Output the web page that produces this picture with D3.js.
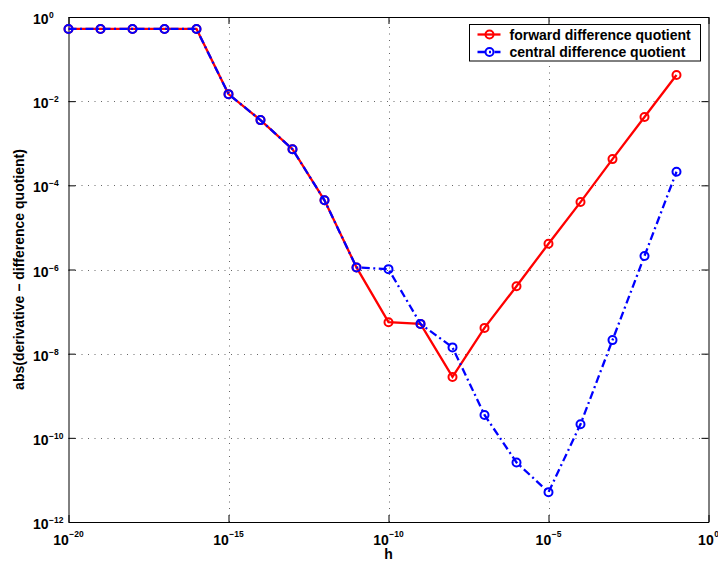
<!DOCTYPE html>
<html>
<head>
<meta charset="utf-8">
<script src="https://cdn.jsdelivr.net/npm/d3@7"></script>
<style>
  body { margin: 0; background: #fff; }
  svg { font-family: "Liberation Sans", Arial, Helvetica, sans-serif; font-weight: bold; }
</style>
</head>
<body>
<div id="chart"></div>
<script>
// step sizes h
const hValues = [1e-20, 1e-19, 1e-18, 1e-17, 1e-16, 1e-15, 1e-14, 1e-13, 1e-12, 1e-11,
                 1e-10, 1e-9, 1e-8, 1e-7, 1e-6, 1e-5, 1e-4, 1e-3, 1e-2, 1e-1];

// abs(derivative - forward difference quotient)
const forwardErr = [0.52, 0.52, 0.52, 0.52, 0.52, 0.0147, 3.55e-3, 7.2e-4, 4.4e-5, 1.12e-6,
                    5.6e-8, 5.1e-8, 2.8e-9, 4.1e-8, 4.0e-7, 4.1e-6, 4.0e-5, 4.2e-4, 4.2e-3, 4.2e-2];

// abs(derivative - central difference quotient)
const centralErr = [0.52, 0.52, 0.52, 0.52, 0.52, 0.0147, 3.55e-3, 7.2e-4, 4.4e-5, 1.12e-6,
                    1.02e-6, 5.1e-8, 1.41e-8, 3.5e-10, 2.6e-11, 5.1e-12, 2.1e-10, 2.1e-8, 2.1e-6, 2.1e-4];

const xTicks = [1e-20, 1e-15, 1e-10, 1e-5, 1e0];
const xTickExp = ["\u221220", "\u221215", "\u221210", "\u22125", "0"];
const yTicks = [1e0, 1e-2, 1e-4, 1e-6, 1e-8, 1e-10, 1e-12];
const yTickExp = ["0", "\u22122", "\u22124", "\u22126", "\u22128", "\u221210", "\u221212"];

const seriesNames = ["forward difference quotient", "central difference quotient"];

const W = 718, H = 562;
const m = { left: 68.5, right: 708.5, top: 17, bottom: 522 };

const svg = d3.select("#chart").append("svg")
    .attr("width", W)
    .attr("height", H);

svg.append("rect").attr("width", W).attr("height", H).attr("fill", "#fff");

const x = d3.scaleLog().domain([1e-20, 1]).range([m.left, m.right]);
const y = d3.scaleLog().domain([1e-12, 1]).range([m.bottom, m.top]);

// dotted grid
const grid = svg.append("g").attr("class", "grid")
    .attr("stroke", "#666").attr("stroke-width", 1).attr("stroke-dasharray", "1,5.5");
grid.selectAll("line.gx")
    .data(xTicks.slice(1, -1))
    .enter().append("line")
    .attr("x1", d => Math.round(x(d)) + 0.5).attr("x2", d => Math.round(x(d)) + 0.5)
    .attr("y1", m.bottom).attr("y2", m.top);
grid.selectAll("line.gy")
    .data(yTicks.slice(1, -1))
    .enter().append("line")
    .attr("y1", d => Math.round(y(d)) + 0.5).attr("y2", d => Math.round(y(d)) + 0.5)
    .attr("x1", m.left).attr("x2", m.right);

// axes with inward ticks, labels drawn separately
svg.append("g")
    .attr("transform", `translate(0,${m.bottom})`)
    .call(d3.axisBottom(x).tickValues(xTicks).tickSizeInner(-7).tickSizeOuter(0).tickFormat(""));
svg.append("g")
    .attr("transform", `translate(${m.left},0)`)
    .call(d3.axisLeft(y).tickValues(yTicks).tickSizeInner(-7).tickSizeOuter(0).tickFormat(""));
svg.append("g")
    .attr("transform", `translate(0,${m.top})`)
    .call(d3.axisTop(x).tickValues(xTicks).tickSizeInner(-7).tickSizeOuter(0).tickFormat(""));
svg.append("g")
    .attr("transform", `translate(${m.right},0)`)
    .call(d3.axisRight(y).tickValues(yTicks).tickSizeInner(-7).tickSizeOuter(0).tickFormat(""));

svg.selectAll(".domain").attr("stroke", "#000");
svg.selectAll(".tick line").attr("stroke", "#000");

// x tick labels: whole "10^e" centred on the tick
const xLab = svg.append("g").selectAll("text")
    .data(xTicks)
    .enter().append("text")
    .attr("x", d => x(d)).attr("y", 545)
    .attr("text-anchor", "middle")
    .attr("font-size", "14px");
xLab.append("tspan").text("10");
xLab.append("tspan")
    .attr("dy", -8.5).attr("dx", 0.5)
    .attr("font-size", "8.5px")
    .text((d, i) => xTickExp[i]);

// y tick labels: left aligned "10", exponent follows
const yLab = svg.append("g").selectAll("g")
    .data(yTicks)
    .enter().append("g")
    .attr("transform", d => `translate(48.5,${y(d) + 7})`);
yLab.append("text")
    .attr("text-anchor", "end")
    .attr("font-size", "14px")
    .text("10");
yLab.append("text")
    .attr("x", 0.5).attr("y", -6)
    .attr("font-size", "8.5px")
    .text((d, i) => yTickExp[i]);

// axis titles
svg.append("text")
    .attr("x", x(1e-10)).attr("y", 558.5)
    .attr("text-anchor", "middle")
    .attr("font-size", "14px")
    .text("h");

svg.append("text")
    .attr("transform", `translate(23.5,${(m.top + m.bottom) / 2}) rotate(-90)`)
    .attr("text-anchor", "middle")
    .attr("font-size", "14px")
    .text("abs(derivative \u2212 difference quotient)");

// series
const series = [
    { name: seriesNames[0], values: forwardErr, color: "#ff0000", dash: null },
    { name: seriesNames[1], values: centralErr, color: "#0000ff", dash: "8,3.5,2,3.5" }
];

const line = d3.line()
    .x(d => x(d[0]))
    .y(d => y(d[1]));

series.forEach(s => {
    const pts = hValues.map((h, i) => [h, s.values[i]]);
    const g = svg.append("g");
    g.append("path")
        .datum(pts)
        .attr("d", line)
        .attr("fill", "none")
        .attr("stroke", s.color)
        .attr("stroke-width", 2.3)
        .attr("stroke-dasharray", s.dash);
    g.selectAll("circle")
        .data(pts)
        .enter().append("circle")
        .attr("cx", d => x(d[0]))
        .attr("cy", d => y(d[1]))
        .attr("r", 4)
        .attr("fill", "none")
        .attr("stroke", s.color)
        .attr("stroke-width", 2);
});

// legend
const legend = svg.append("g").attr("transform", "translate(469.5,24.5)");
legend.append("rect")
    .attr("width", 231).attr("height", 36.5)
    .attr("fill", "#fff").attr("stroke", "#000").attr("stroke-width", 1);

series.forEach((s, i) => {
    const ly = 10 + i * 17.5;
    legend.append("line")
        .attr("x1", 8).attr("x2", 31).attr("y1", ly).attr("y2", ly)
        .attr("stroke", s.color).attr("stroke-width", 2.3)
        .attr("stroke-dasharray", s.dash);
    legend.append("circle")
        .attr("cx", 20).attr("cy", ly).attr("r", 4)
        .attr("fill", "none").attr("stroke", s.color).attr("stroke-width", 2);
    legend.append("text")
        .attr("x", 40).attr("y", ly + 5)
        .attr("font-size", "14px")
        .text(s.name);
});
</script>
</body>
</html>
